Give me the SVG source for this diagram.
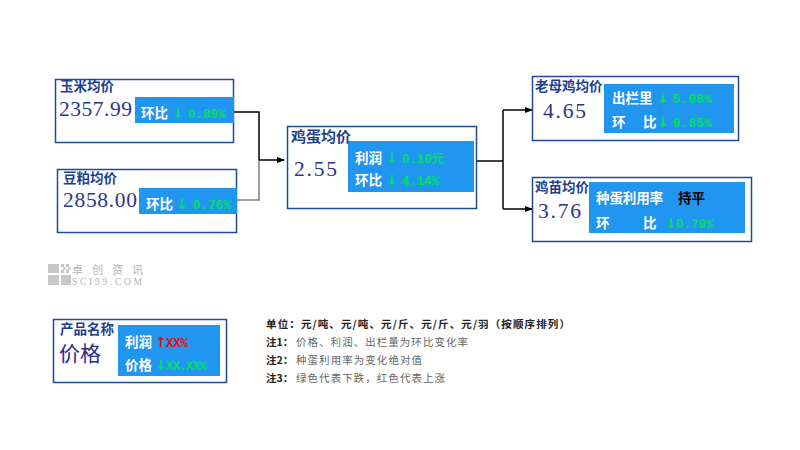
<svg xmlns="http://www.w3.org/2000/svg" width="800" height="450" viewBox="0 0 800 450">
<defs>
<marker id="ah" markerWidth="8" markerHeight="8" refX="7" refY="4" orient="auto" markerUnits="userSpaceOnUse">
<path d="M0,1 L8,4 L0,7 Z" fill="#000"/>
</marker>
<style>
.box{fill:#fff;stroke:#1F4A9A;stroke-width:1.5}
.pan{fill:#2196F0}
.ttl{font-family:"Noto Sans CJK SC","Noto Sans",sans-serif;font-weight:bold;fill:#1F3F8F;font-size:13.5px}
.num{font-family:"Liberation Serif","DejaVu Serif",serif;fill:#2B3590;font-size:21.5px}
.wt{font-family:"Noto Sans CJK SC",sans-serif;font-weight:bold;fill:#fff;font-size:13.5px}
.bk{font-family:"Noto Sans CJK SC",sans-serif;font-weight:bold;fill:#000;font-size:13.5px}
.gv{font-family:"Liberation Mono","Noto Sans CJK SC",monospace;font-weight:bold;fill:#00E060;font-size:12.5px}
.rv{font-family:"Liberation Mono",monospace;font-weight:bold;fill:#FF0000;font-size:12.5px}
.ga{font-family:"DejaVu Sans",sans-serif;font-weight:bold;fill:#00E060;font-size:14px}
.ra{font-family:"DejaVu Sans",sans-serif;font-weight:bold;fill:#FF0000;font-size:14px}
.cn{fill:none;stroke:#000;stroke-width:1.5}
.nb{font-family:"Noto Sans CJK SC",serif;font-weight:bold;fill:#222;font-size:10.5px}
.nt{font-family:"Noto Sans CJK SC",serif;fill:#666;font-size:10.5px}
</style>
</defs>
<rect width="800" height="450" fill="#fff"/>

<g id="connectors">
<path class="cn" d="M234,112 H259 V160"/>
<path d="M237,200 H259 V160" fill="none" stroke="#808080" stroke-width="1.5"/>
<path class="cn" d="M259,160 H284" marker-end="url(#ah)"/>
<path class="cn" d="M477,161 H503"/>
<path class="cn" d="M503,110 V209"/>
<path class="cn" d="M503,110 H532" marker-end="url(#ah)"/>
<path class="cn" d="M503,209 H532" marker-end="url(#ah)"/>
</g>

<g id="corn">
<rect class="box" x="55.5" y="79.5" width="178" height="63"/>
<rect class="pan" x="135" y="97" width="99" height="26"/>
<text class="ttl" x="60" y="91">玉米均价</text>
<text class="num" x="59" y="116" textLength="73">2357.99</text>
<text class="wt" x="141" y="118">环比</text>
<text class="ga" x="172" y="118">↓</text>
<text class="gv" x="188" y="118" textLength="38">0.80%</text>
</g>

<g id="soymeal">
<rect class="box" x="57.5" y="169.5" width="179" height="63"/>
<rect class="pan" x="139" y="188" width="98" height="26"/>
<text class="ttl" x="63" y="183">豆粕均价</text>
<text class="num" x="63" y="207" textLength="74">2858.00</text>
<text class="wt" x="146" y="209">环比</text>
<text class="ga" x="176" y="209">↓</text>
<text class="gv" x="193" y="209" textLength="38">0.76%</text>
</g>

<g id="egg">
<rect class="box" x="287.5" y="126.5" width="189" height="82"/>
<rect class="pan" x="348" y="141" width="126" height="51"/>
<text class="ttl" x="291" y="142" style="font-size:15px">鸡蛋均价</text>
<text class="num" x="294" y="176" textLength="43">2.55</text>
<text class="wt" x="355" y="163">利润</text>
<text class="ga" x="386" y="163">↓</text>
<text class="gv" x="402" y="163">0.10元</text>
<text class="wt" x="355" y="185">环比</text>
<text class="ga" x="386" y="185">↓</text>
<text class="gv" x="402" y="185" textLength="37">4.14%</text>
</g>

<g id="hen">
<rect class="box" x="532.5" y="76.5" width="206" height="64"/>
<rect class="pan" x="604" y="84" width="130" height="49"/>
<text class="ttl" x="535" y="91">老母鸡均价</text>
<text class="num" x="543" y="118" textLength="43">4.65</text>
<text class="wt" x="612" y="103">出栏里</text>
<text class="ga" x="657" y="103">↓</text>
<text class="gv" x="673" y="103" textLength="39">5.08%</text>
<text class="wt" x="612" y="127">环</text>
<text class="wt" x="643" y="127">比</text>
<text class="ga" x="657" y="127">↓</text>
<text class="gv" x="673" y="127" textLength="39">0.85%</text>
</g>

<g id="chick">
<rect class="box" x="532.5" y="177.5" width="219" height="64"/>
<rect class="pan" x="589" y="182" width="156" height="51"/>
<text class="ttl" x="535" y="192">鸡苗均价</text>
<text class="num" x="538" y="218" textLength="43">3.76</text>
<text class="wt" x="596" y="203" textLength="67">种蛋利用率</text>
<text class="bk" x="678" y="203">持平</text>
<text class="wt" x="596" y="228">环</text>
<text class="wt" x="643" y="228">比</text>
<text class="ga" x="665" y="228">↓</text>
<text class="gv" x="676" y="228" textLength="38">0.79%</text>
</g>

<g id="logo">
<rect x="48" y="264" width="11" height="9" fill="#C8C8C8"/>
<rect x="61" y="264" width="3" height="3" fill="#C8C8C8"/>
<rect x="66" y="264" width="3" height="3" fill="#C8C8C8"/>
<rect x="63" y="267" width="3" height="3" fill="#D4D4D4"/>
<rect x="68" y="267" width="3" height="3" fill="#D4D4D4"/>
<rect x="61" y="270" width="3" height="3" fill="#C8C8C8"/>
<rect x="66" y="270" width="3" height="3" fill="#C8C8C8"/>
<rect x="48" y="275" width="11" height="10" fill="#C8C8C8"/>
<rect x="61" y="275" width="10" height="10" fill="#C8C8C8"/>
<text x="72" y="274" textLength="71" style="font-family:'Noto Sans CJK SC',sans-serif;font-size:11px;fill:#B4B4B4">卓创资讯</text>
<text x="72" y="285" textLength="70" style="font-family:'Liberation Serif',serif;font-size:9.5px;fill:#B4B4B4">SCI99.COM</text>
</g>

<g id="legend">
<rect class="box" x="53.5" y="319.5" width="173" height="63"/>
<rect class="pan" x="118" y="325" width="102" height="51"/>
<text class="ttl" x="60" y="334">产品名称</text>
<text x="59" y="361" style="font-family:'Noto Sans CJK SC',sans-serif;font-size:21px;fill:#2B2A8F">价格</text>
<text class="wt" x="125" y="347">利润</text>
<text class="ra" x="155" y="347">↑</text>
<text class="rv" x="166" y="347" textLength="22">XX%</text>
<text class="wt" x="125" y="370">价格</text>
<text class="ga" x="155" y="370">↓</text>
<text class="gv" x="166" y="370" textLength="41">XX.XX%</text>
</g>

<g id="notes">
<text class="nb" x="266" y="328" textLength="304">单位：元/吨、元/吨、元/斤、元/斤、元/羽（按顺序排列）</text>
<text class="nb" x="266" y="346">注1：</text>
<text class="nt" x="296" y="346" textLength="172">价格、利润、出栏量为环比变化率</text>
<text class="nb" x="266" y="364">注2：</text>
<text class="nt" x="296" y="364" textLength="126">种蛋利用率为变化绝对值</text>
<text class="nb" x="266" y="382">注3：</text>
<text class="nt" x="296" y="382" textLength="149">绿色代表下跌，红色代表上涨</text>
</g>
</svg>
